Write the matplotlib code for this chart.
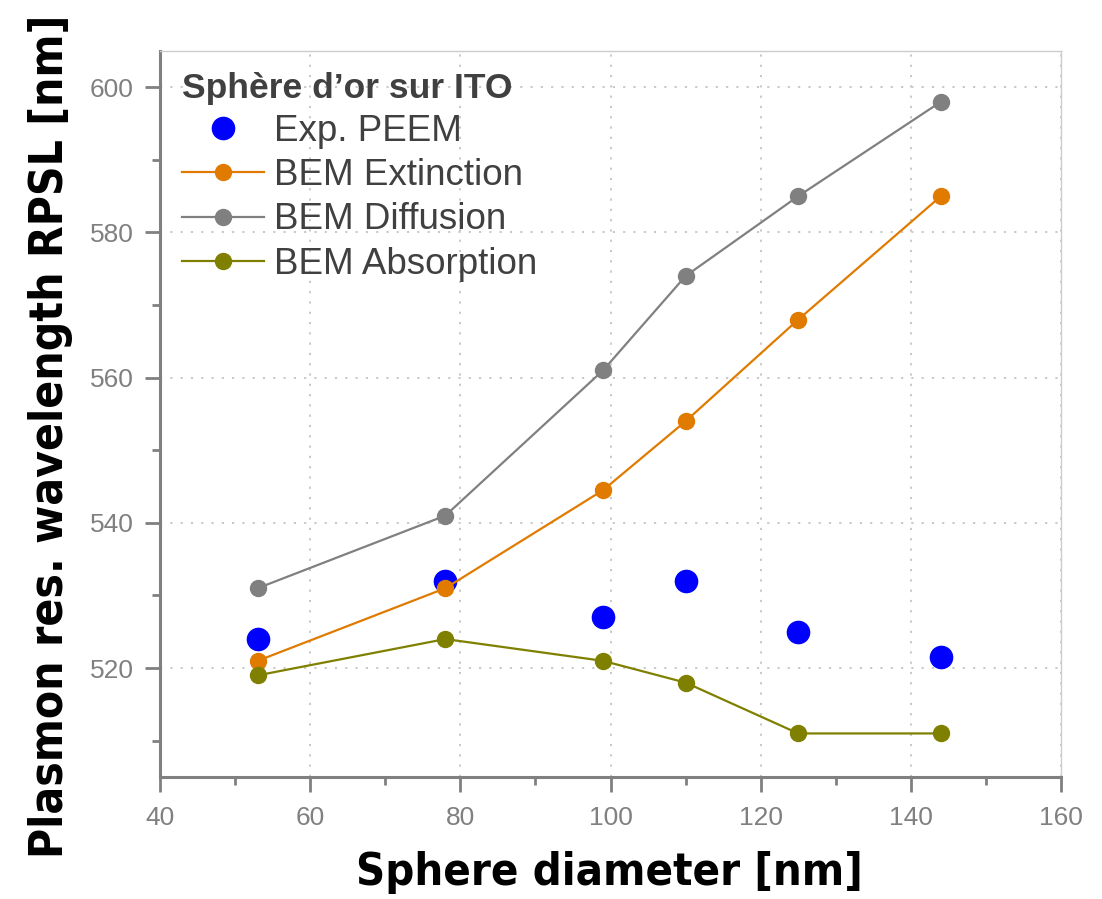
import matplotlib
matplotlib.use("Agg")
import matplotlib.pyplot as plt
from matplotlib.ticker import MultipleLocator
from matplotlib.transforms import IdentityTransform
from matplotlib import font_manager
from matplotlib.font_manager import FontProperties

# Sphere diameters [nm]
diameters = [53, 78, 99, 110, 125, 144]

# Resonance wavelengths [nm]
exp_peem = [524, 532, 527, 532, 525, 521.5]
bem_extinction = [521, 531, 544.5, 554, 568, 585]
bem_diffusion = [531, 541, 561, 574, 585, 598]
bem_absorption = [519, 524, 521, 518, 511, 511]

legend_title = "Sphère d’or sur ITO"
labels = ["Exp. PEEM", "BEM Extinction", "BEM Diffusion", "BEM Absorption"]
xlabel = "Sphere diameter [nm]"
ylabel = "Plasmon res. wavelength RPSL [nm]"

fonts = font_manager.fontManager.ttflist
available = {f.name for f in fonts}
body_font = next((f for f in ["Liberation Sans", "Arial", "DejaVu Sans"] if f in available),
                 "DejaVu Sans")
plt.rcParams["font.family"] = [body_font, "DejaVu Sans"]


def condensed_bold():
    """Pick a narrow bold face for the axis titles, if one is installed."""
    prefs = ["LiberationSansNarrow-Bold", "DejaVuSansCondensed-Bold", "OpenSans_Condensed-Bold",
             "OpenSansCondensed-Bold", "Roboto_Condensed-Bold", "RobotoCondensed-Bold"]
    for p in prefs:
        for f in fonts:
            if p.lower() in f.fname.lower().replace(" ", ""):
                return FontProperties(fname=f.fname)
    for f in fonts:
        n = f.fname.lower()
        if ("condensed" in n or "narrow" in n) and "bold" in n and "italic" not in n:
            return FontProperties(fname=f.fname)
    return FontProperties(family=["Open Sans", "DejaVu Sans"], weight="bold")


title_font = condensed_bold()

fig = plt.figure(figsize=(11.02, 8.99), dpi=100)
ax = fig.add_axes([0.1452, 0.1357, 0.8176, 0.8076])

ax.plot(diameters, exp_peem, linestyle="none", marker="o", markersize=16,
        color="#0000FF", label=labels[0], zorder=3)
ax.plot(diameters, bem_extinction, marker="o", markersize=11.5, linewidth=1.6,
        color="#E07B00", label=labels[1], zorder=4)
ax.plot(diameters, bem_diffusion, marker="o", markersize=11.5, linewidth=1.6,
        color="#808080", label=labels[2], zorder=4)
ax.plot(diameters, bem_absorption, marker="o", markersize=11.5, linewidth=1.6,
        color="#808000", label=labels[3], zorder=4)

ax.set_xlim(40, 160)
ax.set_ylim(505, 605)
ax.xaxis.set_major_locator(MultipleLocator(20))
ax.xaxis.set_minor_locator(MultipleLocator(10))
ax.yaxis.set_major_locator(MultipleLocator(20))
ax.yaxis.set_minor_locator(MultipleLocator(10))
ax.set_yticks([520, 540, 560, 580, 600])

ax.grid(True, which="major", color="#c4c4c4", linewidth=1.3,
        linestyle=(0, (1.2, 4.5)))
ax.set_axisbelow(True)

for side in ("left", "bottom"):
    ax.spines[side].set_color("#808080")
    ax.spines[side].set_linewidth(2.2)
for side in ("top", "right"):
    ax.spines[side].set_color("#cccccc")
    ax.spines[side].set_linewidth(1.0)

ax.tick_params(axis="both", which="major", direction="out", length=11, width=2,
               color="#808080", labelcolor="#808080", labelsize=19, pad=8)
ax.tick_params(axis="x", which="major", pad=10)
ax.tick_params(axis="both", which="minor", direction="out", length=6, width=2,
               color="#808080")

xl = ax.set_xlabel(xlabel, fontproperties=title_font, fontsize=36, color="black")
yl = ax.set_ylabel(ylabel, fontproperties=title_font, fontsize=36, color="black")

leg = ax.legend(loc="upper left", bbox_to_anchor=(0.0083, 0.9915), frameon=False,
                title=legend_title, alignment="left", fontsize=26.5,
                handlelength=2.23, handletextpad=0.27, labelspacing=0.25,
                borderaxespad=0.2, borderpad=0.2)
leg.get_title().set_fontsize(25.5)
leg.get_title().set_fontweight("bold")
leg.get_title().set_color("#404040")
for t in leg.get_texts():
    t.set_color("#404040")

# Size the axis titles to their span and centre them in pixel space
fig.canvas.draw()
renderer = fig.canvas.get_renderer()
xw = xl.get_window_extent(renderer).width
xl.set_fontsize(36 * 507 / xw)
yh = yl.get_window_extent(renderer).height
yl.set_fontsize(36 * 842 / yh)
xl.set_ha("center")
xl.set_va("center")
yl.set_ha("center")
yl.set_va("center")
ax.xaxis.set_label_coords(609, 899 - 873, transform=IdentityTransform())
ax.yaxis.set_label_coords(51, 899 - 436, transform=IdentityTransform())

fig.savefig("out.png", dpi=100)
